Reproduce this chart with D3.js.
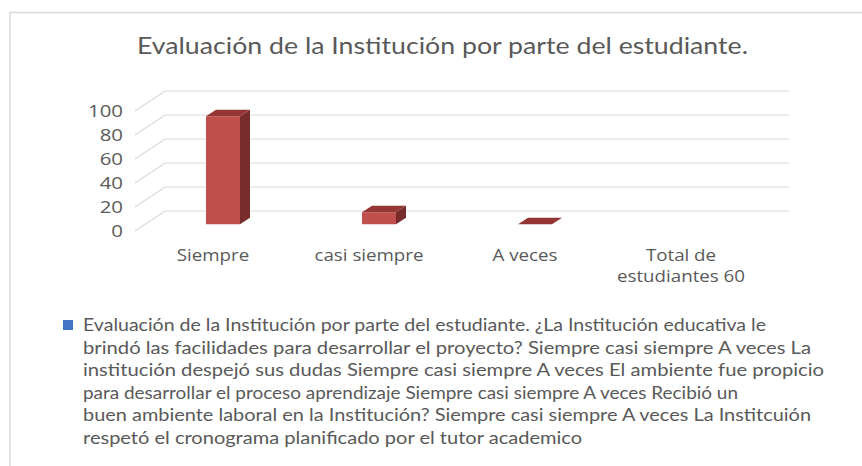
<!DOCTYPE html>
<html>
<head>
<meta charset="utf-8">
<script src="https://cdn.jsdelivr.net/npm/d3@7/dist/d3.min.js"></script>
<style>
  html, body { margin: 0; padding: 0; background: #fff; }
  svg { display: block; }
</style>
</head>
<body>
<svg id="chart" width="862" height="466"></svg>
<script>
// ---- data ----
const title = "Evaluación de la Institución por parte del estudiante.";
const categories = ["Siempre", "casi siempre", "A veces", "Total de\nestudiantes 60"];
const values = [90, 10, 0, null];
const yTicks = [0, 20, 40, 60, 80, 100];
const legendLines = [
  "Evaluación de la Institución por parte del estudiante.  ¿La Institución educativa le",
  "brindó las facilidades para desarrollar el proyecto? Siempre casi siempre A veces La",
  "institución despejó sus dudas Siempre casi siempre A veces El ambiente fue propicio",
  "para desarrollar el proceso aprendizaje Siempre casi siempre A veces Recibió un",
  "buen ambiente laboral en la Institución? Siempre casi siempre A veces La Institcuión",
  "respetó el cronograma planificado por el tutor academico"
];

// ---- layout / style ----
const legendWidths = [683, 728, 741, 655, 728, 499];
const FONT = "Lato, 'Open Sans', sans-serif";
const AXFONT = "'Open Sans', Lato, sans-serif";
const AXSTRETCH = 1.17;
const TXT = "#595959";
const GRID = "#D9D9D9";
const depth = { dx: 30, dy: -20 };
const f1 = 1/3, f2 = 2/3;

const svg = d3.select("#chart");

function stretch(sel, k) {
  sel.each(function() {
    const w = this.getComputedTextLength();
    d3.select(this).attr("textLength", w * k).attr("lengthAdjust", "spacingAndGlyphs");
  });
}

// border
svg.append("path")
  .attr("d", "M10,466 L10,12.5 L862,12.5")
  .attr("fill", "none").attr("stroke", GRID).attr("stroke-width", 1.5);

// title
svg.append("text")
  .attr("x", 442.5).attr("y", 54)
  .attr("text-anchor", "middle")
  .attr("font-family", FONT).attr("font-size", 22.5)
  .attr("fill", TXT)
  .attr("textLength", 611).attr("lengthAdjust", "spacingAndGlyphs")
  .text(title);

// scales (front plane)
const x = d3.scaleBand().domain(categories).range([135, 759])
  .paddingInner(0.782).paddingOuter(0.391);
const y = d3.scaleLinear().domain([0, 100]).range([231, 111]);

const P = (px, v, f) => [px + depth.dx * f, y(v) + depth.dy * f];

// gridlines: back wall + left side diagonals
const g = svg.append("g");
yTicks.forEach(t => {
  const a = P(135, t, 0), b = P(135, t, 1), c = P(759, t, 1);
  g.append("path")
    .attr("d", `M${a[0]},${a[1]} L${b[0]},${b[1]} L${c[0]},${c[1]}`)
    .attr("fill", "none").attr("stroke", GRID).attr("stroke-width", 1.2);
});

// y tick labels
svg.append("g").selectAll("text").data(yTicks).join("text")
  .attr("x", 123).attr("y", d => y(d))
  .attr("dy", "0.36em")
  .attr("text-anchor", "end")
  .attr("font-family", AXFONT).attr("font-size", 17)
  .attr("fill", TXT)
  .text(d => d)
  .call(stretch, 1.2);

// bars (3D)
const bars = svg.append("g");
categories.forEach((c, i) => {
  const v = values[i];
  if (v === null || v === undefined) return;
  const x0 = x(c), x1 = x(c) + x.bandwidth();
  const poly = pts => pts.map(p => p.join(",")).join(" ");
  bars.append("polygon")
    .attr("points", poly([P(x1, 0, f1), P(x1, 0, f2), P(x1, v, f2), P(x1, v, f1)]))
    .attr("fill", "#772D2B");
  bars.append("polygon")
    .attr("points", poly([P(x0, 0, f1), P(x1, 0, f1), P(x1, v, f1), P(x0, v, f1)]))
    .attr("fill", "#C0504D");
  bars.append("polygon")
    .attr("points", poly([P(x0, v, f1), P(x1, v, f1), P(x1, v, f2), P(x0, v, f2)]))
    .attr("fill", "#943634");
});

// category labels
const catG = svg.append("g");
categories.forEach(c => {
  const cx = x(c) + x.bandwidth() / 2;
  c.split("\n").forEach((ln, k) => {
    catG.append("text")
      .attr("x", cx)
      .attr("y", 261 + k * 21)
      .attr("text-anchor", "middle")
      .attr("font-family", AXFONT).attr("font-size", 16)
      .attr("fill", TXT)
      .text(ln)
      .call(stretch, AXSTRETCH);
  });
});

// legend
svg.append("rect")
  .attr("x", 63).attr("y", 320).attr("width", 10).attr("height", 10)
  .attr("fill", "#4472C4");
const lg = svg.append("g");
legendLines.forEach((ln, k) => {
  lg.append("text")
    .attr("x", 83).attr("y", 331 + k * 22.5)
    .attr("font-family", FONT).attr("font-size", 17)
    .attr("fill", TXT)
    .attr("textLength", legendWidths[k]).attr("lengthAdjust", "spacingAndGlyphs")
    .text(ln);
});
</script>
</body>
</html>
